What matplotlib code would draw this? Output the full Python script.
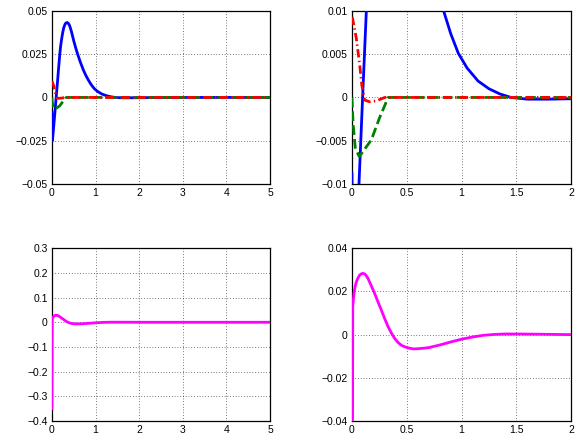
import numpy as np
import matplotlib.pyplot as plt

plt.rcParams['font.family'] = ['Liberation Sans', 'DejaVu Sans']
plt.rcParams['font.size'] = 7.5

# first output (blue)
t_blue = [0, 0.012, 0.064, 0.097, 0.131, 0.15, 0.18, 0.2, 0.23, 0.25, 0.27, 0.3,
          0.32, 0.35, 0.37, 0.4, 0.42, 0.45, 0.5, 0.55, 0.6, 0.65, 0.72, 0.78,
          0.836, 0.9, 0.97, 1.05, 1.15, 1.25, 1.35, 1.45, 1.6, 1.8, 2.0, 2.5, 3.0, 5.0]
y_blue = [-0.0088, -0.025, -0.01, 0.0, 0.01, 0.016, 0.025, 0.0298, 0.035, 0.0378,
          0.0402, 0.0423, 0.0430, 0.0433, 0.0430, 0.0418, 0.0404, 0.0378, 0.0327,
          0.0282, 0.0242, 0.0205, 0.0159, 0.0126, 0.01, 0.0074, 0.0051, 0.0034,
          0.0019, 0.001, 0.0004, 0.0, -0.0002, -0.0002, -0.00015, -0.00005, 0.0, 0.0]

# second output (green dashed)
t_green = [0, 0.01, 0.03, 0.065, 0.08, 0.177, 0.25, 0.33, 5.0]
y_green = [0.0, -0.003, -0.0058, -0.0068, -0.0066, -0.0049, -0.0024, 0.0, 0.0]

# third output (red dash-dot)
t_red = [0, 0.006, 0.04, 0.07, 0.09, 0.116, 0.16, 0.22, 0.3, 5.0]
y_red = [0.0093, 0.0091, 0.0068, 0.0038, 0.0014, -0.0003, -0.0005, -0.0004, 0.0, 0.0]

# error signal (magenta)
t_mag = [0, 0.005, 0.007, 0.018, 0.03, 0.04, 0.055, 0.07, 0.085, 0.1, 0.115,
         0.125, 0.146, 0.175, 0.207, 0.24, 0.268, 0.3, 0.33, 0.36, 0.39, 0.42,
         0.45, 0.48, 0.51, 0.56, 0.6, 0.65, 0.7, 0.8, 0.9, 1.0, 1.1, 1.2, 1.3,
         1.4, 1.5, 1.7, 2.0, 5.0]
y_mag = [-0.35, -0.05, 0.013, 0.019, 0.0225, 0.0244, 0.0262, 0.0275, 0.0281,
         0.0283, 0.0281, 0.0276, 0.026, 0.0227, 0.019, 0.0148, 0.0113, 0.0072,
         0.0036, 0.0007, -0.0018, -0.0036, -0.0049, -0.0056, -0.0061, -0.0066,
         -0.0065, -0.0063, -0.006, -0.0048, -0.0034, -0.0021, -0.0011, -0.0003,
         0.0001, 0.0003, 0.0003, 0.0002, 0.0, 0.0]

fig = plt.figure(figsize=(5.77, 4.36), dpi=100)
ax1 = fig.add_axes([0.090, 0.578, 0.378, 0.397])
ax2 = fig.add_axes([0.610, 0.578, 0.380, 0.397])
ax3 = fig.add_axes([0.090, 0.034, 0.378, 0.397])
ax4 = fig.add_axes([0.610, 0.034, 0.380, 0.397])

for ax in [ax1, ax2]:
    ax.plot(t_blue, y_blue, color='b', lw=2, solid_joinstyle='round', zorder=3)
    ax.plot(t_green, y_green, color=(0, 0.5, 0), lw=2, ls=(0, (3.5, 1.5)),
            dash_joinstyle='round', zorder=3)
    ax.plot(t_red, y_red, color='r', lw=2, ls=(0, (3, 1.2, 0.5, 1.2)),
            dash_joinstyle='round', zorder=3)
for ax in [ax3, ax4]:
    ax.plot(t_mag, y_mag, color=(1, 0, 1), lw=2, solid_joinstyle='round', zorder=3)

def setup(ax, xt, xl, yt, yl):
    ax.set_xlim(xt[0], xt[-1])
    ax.set_ylim(yt[0], yt[-1])
    ax.set_xticks(xt)
    ax.set_xticklabels(xl)
    ax.set_yticks(yt)
    ax.set_yticklabels(yl)
    ax.grid(True, color='k', ls=(0, (1, 3)), lw=0.5)
    ax.tick_params(length=0, pad=3)
    for s in ax.spines.values():
        s.set_linewidth(0.9)

setup(ax1, [0, 1, 2, 3, 4, 5], ['0', '1', '2', '3', '4', '5'],
      [-0.05, -0.025, 0, 0.025, 0.05], ['\u22120.05', '\u22120.025', '0', '0.025', '0.05'])
setup(ax2, [0, 0.5, 1, 1.5, 2], ['0', '0.5', '1', '1.5', '2'],
      [-0.01, -0.005, 0, 0.005, 0.01], ['\u22120.01', '\u22120.005', '0', '0.005', '0.01'])
setup(ax3, [0, 1, 2, 3, 4, 5], ['0', '1', '2', '3', '4', '5'],
      [-0.4, -0.3, -0.2, -0.1, 0, 0.1, 0.2, 0.3],
      ['\u22120.4', '\u22120.3', '\u22120.2', '\u22120.1', '0', '0.1', '0.2', '0.3'])
setup(ax4, [0, 0.5, 1, 1.5, 2], ['0', '0.5', '1', '1.5', '2'],
      [-0.04, -0.02, 0, 0.02, 0.04], ['\u22120.04', '\u22120.02', '0', '0.02', '0.04'])

fig.savefig('out.png', dpi=100)
